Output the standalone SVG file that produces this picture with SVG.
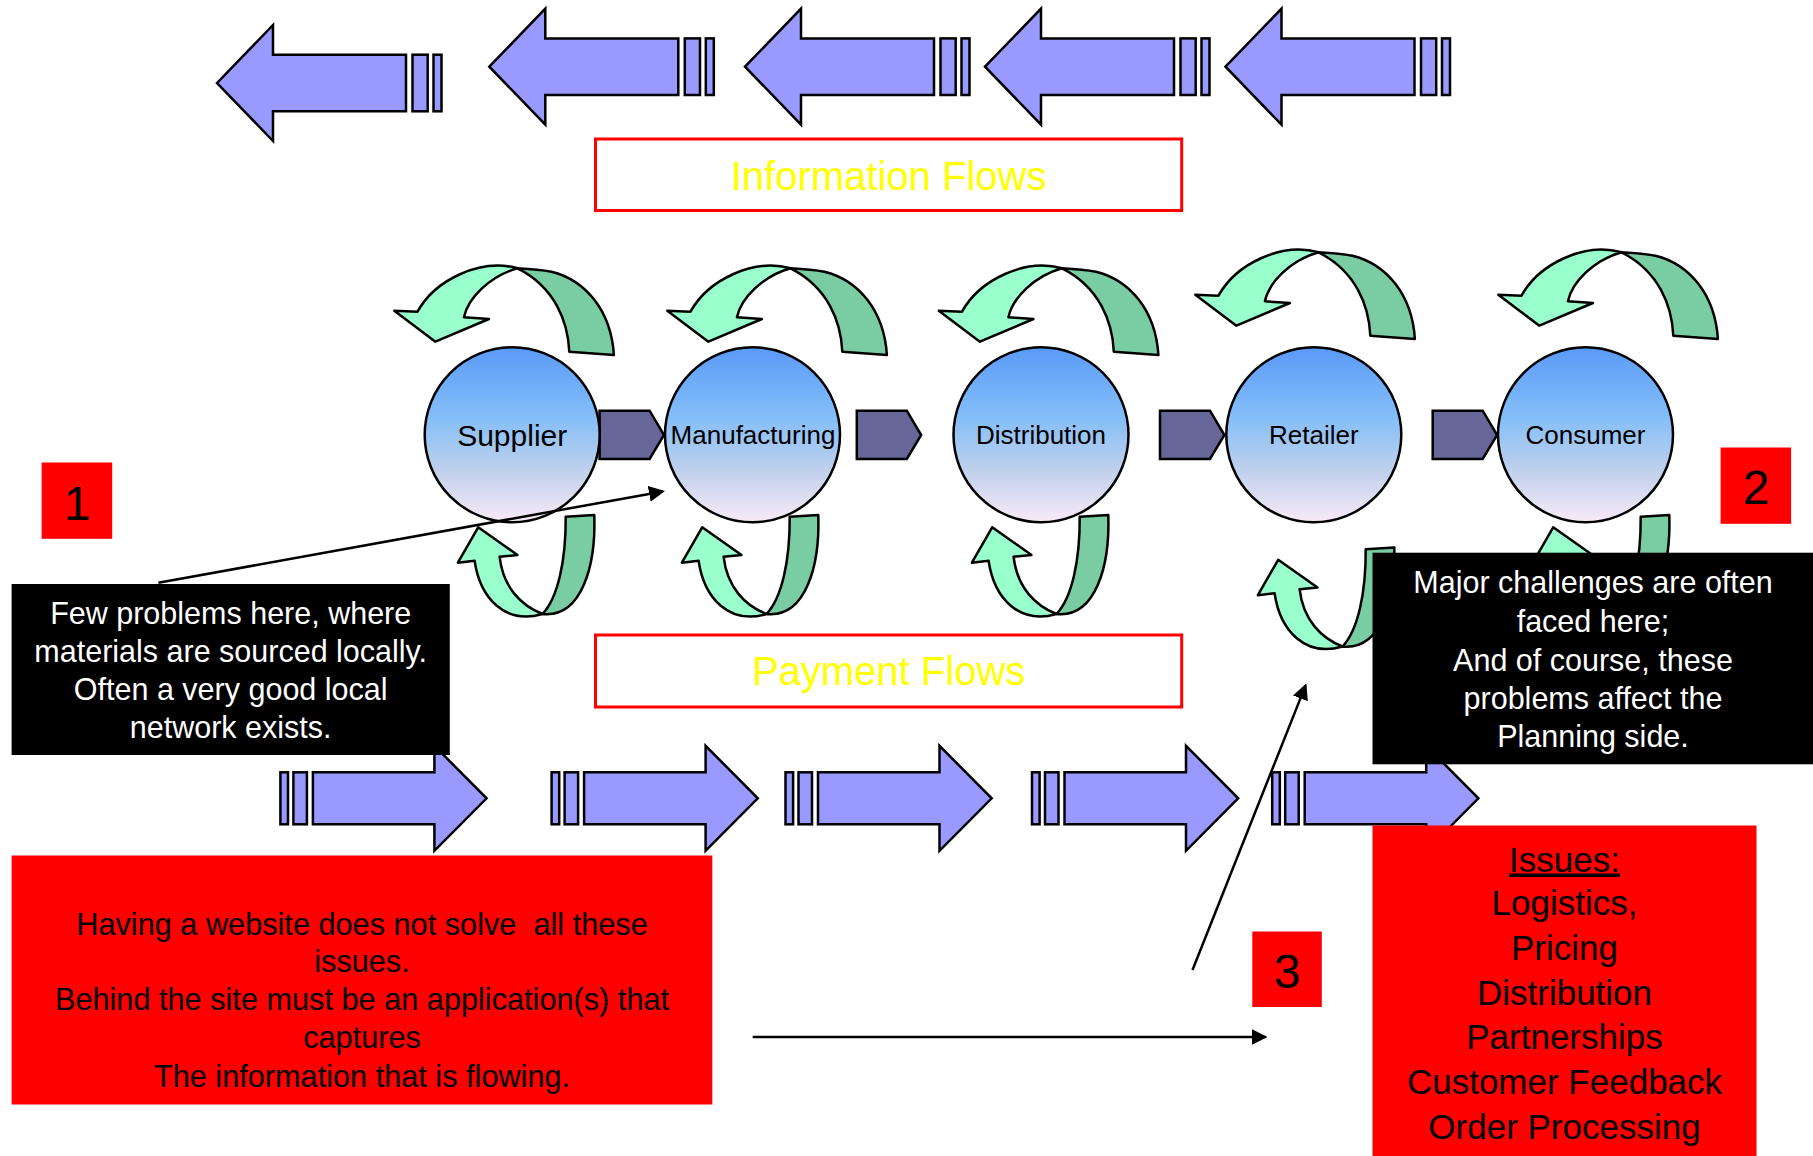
<svg xmlns="http://www.w3.org/2000/svg" width="1813" height="1156" viewBox="0 0 1813 1156">
<style>
.flow{fill:#9999ff;stroke:#000;stroke-width:2.5}
.chev{fill:#666699;stroke:#000;stroke-width:2.5}
.lt{fill:#99ffcc;stroke:#000;stroke-width:2.5;stroke-linejoin:round}
.dk{fill:#7acca3;stroke:#000;stroke-width:2.5;stroke-linejoin:round}
.node{fill:url(#ng);stroke:#000;stroke-width:2.5}
.tx{font-family:"Liberation Sans",Arial,sans-serif;text-anchor:middle}
.nl{font-size:26px;fill:#000}
.title{font-size:40px;fill:#ffff00}
.tbox{fill:#fff;stroke:#ff0000;stroke-width:3}
.wt{font-size:30.5px;fill:#fff}
.bt{font-size:30.7px;fill:#000;white-space:pre}
.is{font-size:35px;fill:#000}
.num{font-size:48px;fill:#000}
.red{fill:#ff0000}
.blk{fill:#000}
.conn{stroke:#000;stroke-width:2.5;fill:none;marker-end:url(#ah)}
</style>
<defs>
<linearGradient id="ng" x1="0" y1="0" x2="0" y2="1">
<stop offset="0" stop-color="#5a9af8"/>
<stop offset="0.4" stop-color="#84bef8"/>
<stop offset="0.7" stop-color="#bfd0ec"/>
<stop offset="1" stop-color="#f8eaf8"/>
</linearGradient>
<marker id="ah" markerUnits="userSpaceOnUse" markerWidth="18" markerHeight="18" refX="14" refY="8" orient="auto">
<path d="M0,0 L16,8 L0,16 z" fill="#000"/>
</marker>
<g id="ia">
<polygon class="flow" points="0,0 56,-58 56,-28.3 189,-28.3 189,28.3 56,28.3 56,58"/>
<rect class="flow" x="195.5" y="-28.3" width="15.2" height="56.6"/>
<rect class="flow" x="216.5" y="-28.3" width="8" height="56.6"/>
</g>
<g id="pa">
<rect class="flow" x="0" y="-26" width="7.6" height="52"/>
<rect class="flow" x="13" y="-26" width="13.5" height="52"/>
<polygon class="flow" points="32.5,-26 154,-26 154,-52.5 206.2,0 154,52.5 154,26 32.5,26"/>
</g>
<g id="tc">
<path class="dk" d="M517.5,268.3 C530,269 542,270 551.4,271.7 C585,280 611,310 613.9,355 L569.3,351.7 C568,322 555,287 517.5,268.3 Z"/>
<path class="lt" d="M517.5,268.3 C480,258 435,280 417.5,311.7 L394.3,310.7 L435.4,341.7 L488.9,319 L463.9,317.3 C468,298 490,276 517.5,268.3 Z"/>
</g>
<g id="bc">
<path class="dk" d="M542.5,614 C558,598 566,560 565.7,516.7 L594.3,515 C596,565 582,618 542.5,614 Z"/>
<path class="lt" d="M542.5,614 C522,606 503,588 499.6,556.7 L517.5,555 L478.2,527.3 L457.9,562.7 L474.6,560.7 C480,598 505,625 542.5,614 Z"/>
</g>
<polygon id="ch" class="chev" points="0,410.7 50,410.7 64.4,435 50,459 0,459"/>
</defs>

<g id="information-arrows">
<use href="#ia" transform="translate(217,83)"/>
<use href="#ia" transform="translate(489.3,66.7)"/>
<use href="#ia" transform="translate(745,66.7)"/>
<use href="#ia" transform="translate(985,66.7)"/>
<use href="#ia" transform="translate(1225.5,66.7)"/>
</g>

<g id="information-flows">
<rect class="tbox" x="595.5" y="139" width="586.2" height="71.5"/>
<text class="tx title" x="888.6" y="190">Information Flows</text>
</g>

<g id="chevrons">
<use href="#ch" transform="translate(599.6,0)"/>
<use href="#ch" transform="translate(856.8,0)"/>
<use href="#ch" transform="translate(1160,0)"/>
<use href="#ch" transform="translate(1432.7,0)"/>
</g>

<g id="supplier">
<use href="#tc"/>
<use href="#bc"/>
<circle class="node" cx="512.2" cy="434.8" r="87.5"/>
<text class="tx nl" x="512.2" y="446" style="font-size:30px">Supplier</text>
</g>
<g id="manufacturing">
<use href="#tc" transform="translate(273,0)"/>
<use href="#bc" transform="translate(224,0)"/>
<circle class="node" cx="752.5" cy="434.8" r="87.5"/>
<text class="tx nl" x="753" y="444">Manufacturing</text>
</g>
<g id="distribution">
<use href="#tc" transform="translate(544.5,0)"/>
<use href="#bc" transform="translate(514,0)"/>
<circle class="node" cx="1041" cy="434.8" r="87.5"/>
<text class="tx nl" x="1041" y="444">Distribution</text>
</g>
<g id="retailer">
<use href="#tc" transform="translate(801,-16)"/>
<use href="#bc" transform="translate(800,32.5)"/>
<circle class="node" cx="1313.8" cy="434.8" r="87.5"/>
<text class="tx nl" x="1313.8" y="444">Retailer</text>
</g>
<g id="consumer">
<use href="#tc" transform="translate(1104,-16)"/>
<use href="#bc" transform="translate(1075,0)"/>
<circle class="node" cx="1585.5" cy="434.8" r="87.5"/>
<text class="tx nl" x="1585.5" y="444">Consumer</text>
</g>

<g id="payment-flows">
<rect class="tbox" x="595.5" y="635" width="586.2" height="72"/>
<text class="tx title" x="888.6" y="685">Payment Flows</text>
</g>

<g id="payment-arrows">
<use href="#pa" transform="translate(280.4,798.3)"/>
<use href="#pa" transform="translate(551.6,798.3)"/>
<use href="#pa" transform="translate(785.5,798.3)"/>
<use href="#pa" transform="translate(1032,798.3)"/>
<use href="#pa" transform="translate(1272.2,798.3)"/>
</g>

<g id="note-local">
<rect class="blk" x="11.6" y="584" width="438.2" height="171"/>
<text class="tx wt" x="230.7" y="623.5">Few problems here, where</text>
<text class="tx wt" x="230.7" y="662">materials are sourced locally.</text>
<text class="tx wt" x="230.7" y="700">Often a very good local</text>
<text class="tx wt" x="230.7" y="738">network exists.</text>
</g>

<g id="note-website">
<rect class="red" x="11.6" y="855.5" width="700.7" height="249"/>
<text class="tx bt" x="362" y="935" xml:space="preserve">Having a website does not solve  all these</text>
<text class="tx bt" x="362" y="972">issues.</text>
<text class="tx bt" x="362" y="1010">Behind the site must be an application(s) that</text>
<text class="tx bt" x="362" y="1048">captures</text>
<text class="tx bt" x="362" y="1086.5">The information that is flowing.</text>
</g>

<g id="note-challenges">
<rect class="blk" x="1372.5" y="552.7" width="441" height="211.6"/>
<text class="tx wt" x="1593" y="593">Major challenges are often</text>
<text class="tx wt" x="1593" y="632">faced here;</text>
<text class="tx wt" x="1593" y="670.5">And of course, these</text>
<text class="tx wt" x="1593" y="709">problems affect the</text>
<text class="tx wt" x="1593" y="747">Planning side.</text>
</g>

<g id="issues">
<rect class="red" x="1372.5" y="825.5" width="384" height="331"/>
<text class="tx is" x="1564.5" y="871.5" style="text-decoration:underline">Issues:</text>
<text class="tx is" x="1564.5" y="915">Logistics,</text>
<text class="tx is" x="1564.5" y="960">Pricing</text>
<text class="tx is" x="1564.5" y="1005">Distribution</text>
<text class="tx is" x="1564.5" y="1048.5">Partnerships</text>
<text class="tx is" x="1564.5" y="1093.5">Customer Feedback</text>
<text class="tx is" x="1564.5" y="1138.5">Order Processing</text>
</g>

<g id="label-1">
<rect class="red" x="41.6" y="462.5" width="70.6" height="76.3"/>
<text class="tx num" x="77" y="520">1</text>
</g>
<g id="label-2">
<rect class="red" x="1720.6" y="447.5" width="70.5" height="76.3"/>
<text class="tx num" x="1756" y="504">2</text>
</g>
<g id="label-3">
<rect class="red" x="1252.3" y="931.5" width="69.5" height="75.5"/>
<text class="tx num" x="1287" y="988">3</text>
</g>

<g id="connectors">
<line class="conn" x1="158.4" y1="582.8" x2="663" y2="491.4"/>
<line class="conn" x1="1192.5" y1="970" x2="1305.6" y2="685.4"/>
<line class="conn" x1="752.7" y1="1037" x2="1265.5" y2="1037"/>
</g>
</svg>
